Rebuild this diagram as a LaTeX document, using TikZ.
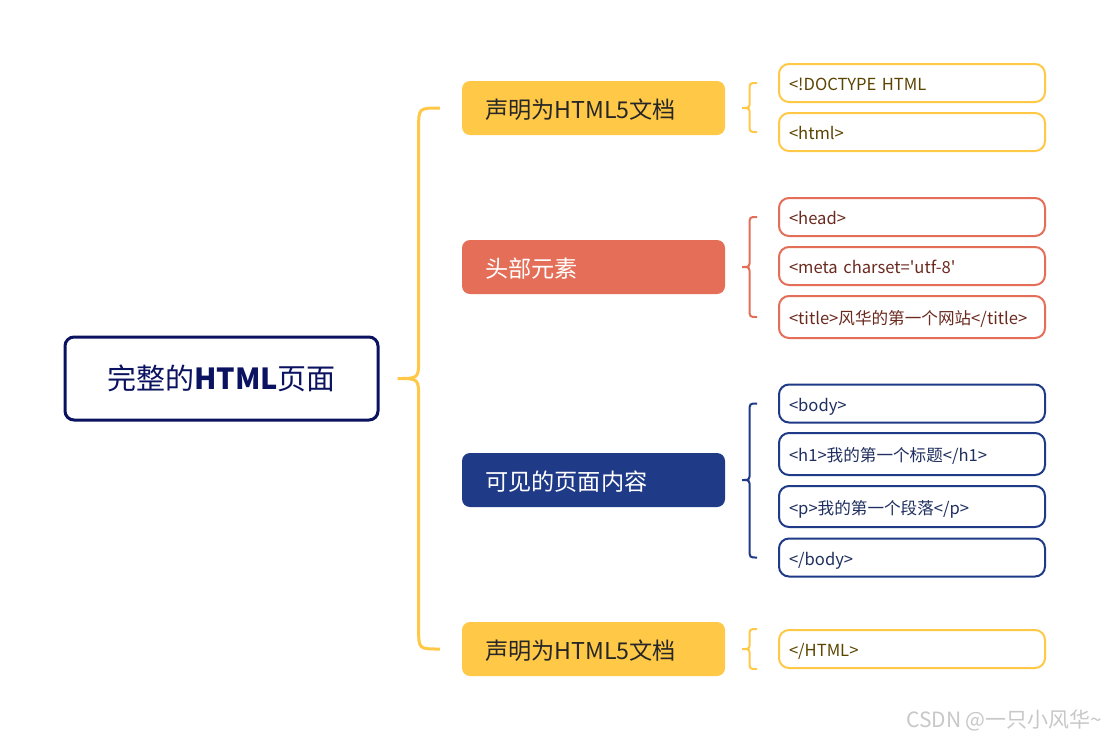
\documentclass[tikz,border=0pt]{standalone}
\usepackage{fontspec}
\setmainfont{Noto Sans CJK SC}
\newfontfamily\leaffont{Noto Sans CJK SC}
\usetikzlibrary{calc}
\definecolor{ylw}{HTML}{FFC947}
\definecolor{crl}{HTML}{E46E58}
\definecolor{nvy}{HTML}{1F3A87}
\definecolor{rootc}{HTML}{0B1260}
\definecolor{ytext}{HTML}{5C4500}
\definecolor{ctext}{HTML}{6B2A1F}
\definecolor{ntext}{HTML}{1F2F5F}
\definecolor{wm}{HTML}{C8C8C8}
\newcommand\curlyb[5]{% style, tip, top end, bottom end, radius
  \draw[#1] let \p1=(#2),\p2=(#3),\p3=(#4),\p4=($(#2)!0.5!(#3)$) in
   (\p2) .. controls (\x4,\y2) .. (\x4,{\y2-#5})
   -- (\x4,{\y1+#5}) .. controls (\x4,\y1) .. (\p1)
   .. controls (\x4,\y1) .. (\x4,{\y1-#5})
   -- (\x4,{\y3+#5}) .. controls (\x4,\y3) .. (\p3);}
\begin{document}
\begin{tikzpicture}[x=1pt,y=-1pt,
  rootbox/.style={draw=rootc,line width=3pt,rounded corners=9pt,fill=white,
    minimum width=313pt,minimum height=83pt,text=rootc,font=\fontsize{29}{32}\selectfont},
  branch/.style={fill=#1,rounded corners=8pt,minimum height=54pt,
    text width=217pt,inner xsep=23pt,align=left,font=\fontsize{23.2}{26}\selectfont,
    text height=22pt,text depth=2pt},
  leaf/.style={draw=#1,line width=2pt,rounded corners=10pt,fill=white,
    minimum height=38pt,text width=246pt,inner xsep=10pt,align=left,
    font=\leaffont\fontsize{16.6}{19}\selectfont,text height=17pt,text depth=2pt},
  bigbrace/.style={draw=ylw,line width=3pt},
  smallbrace/.style={draw=#1,line width=2pt}]
\useasboundingbox (0,0) rectangle (1110,740);
\fill[white] (0,0) rectangle (1110,740);

% root
\node[rootbox] (root) at (221.5,378.5) {完整的{\bfseries HTML}页面};

% branches
\node[branch=ylw,text=black!85] (b1) at (593.5,108) {声明为HTML5文档};
\node[branch=crl,text=white] (b2) at (593.5,267) {头部元素};
\node[branch=nvy,text=white] (b3) at (593.5,480) {可见的页面内容};
\node[branch=ylw,text=black!85] (b4) at (593.5,649) {声明为HTML5文档};

% leaves
\node[leaf=ylw,text=ytext] (l11) at (912,83) {<!DOCTYPE HTML};
\node[leaf=ylw,text=ytext] (l12) at (912,132) {<html>};
\node[leaf=crl,text=ctext] (l21) at (912,217) {<head>};
\node[leaf=crl,text=ctext] (l22) at (912,266) {<meta charset='utf-8'};
\node[leaf=crl,text=ctext,minimum height=42pt] (l23) at (912,317) {<title>风华的第一个网站</title>};
\node[leaf=nvy,text=ntext] (l31) at (912,403.5) {<body>};
\node[leaf=nvy,text=ntext,minimum height=42pt] (l32) at (912,454) {<h1>我的第一个标题</h1>};
\node[leaf=nvy,text=ntext,minimum height=41pt] (l33) at (912,506.5) {<p>我的第一个段落</p>};
\node[leaf=nvy,text=ntext] (l34) at (912,557.5) {</body>};
\node[leaf=ylw,text=ytext] (l41) at (912,649) {</HTML>};

% big brace
\coordinate (rt) at ($(root.east)+(18,0)$);
\coordinate (bt) at ($(b1.west)+(-22,0)$);
\coordinate (bb) at ($(b4.west)+(-22,0)$);
\curlyb{bigbrace}{rt}{bt}{bb}{20pt}

% small braces
\coordinate (t1) at ($(b1.east)+(17,0)$);
\coordinate (e1a) at ($(l11.west)+(-21,0)$);
\coordinate (e1b) at ($(l12.west)+(-21,0)$);
\curlyb{smallbrace=ylw}{t1}{e1a}{e1b}{7pt}

\coordinate (t2) at ($(b2.east)+(17,0)$);
\coordinate (e2a) at ($(l21.west)+(-21,0)$);
\coordinate (e2b) at ($(l23.west)+(-21,0)$);
\curlyb{smallbrace=crl}{t2}{e2a}{e2b}{8pt}

\coordinate (t3) at ($(b3.east)+(17,0)$);
\coordinate (e3a) at ($(l31.west)+(-21,0)$);
\coordinate (e3b) at ($(l34.west)+(-21,0)$);
\curlyb{smallbrace=nvy}{t3}{e3a}{e3b}{8pt}

\coordinate (t4) at ($(b4.east)+(17,0)$);
\coordinate (e4a) at ($(l41.west)+(-21,-20)$);
\coordinate (e4b) at ($(l41.west)+(-21,20)$);
\curlyb{smallbrace=ylw}{t4}{e4a}{e4b}{7pt}

% watermark
\node[text=wm,font=\leaffont\fontsize{21}{24}\selectfont,anchor=east] (wmk) at (1106,720) {CSDN @一只小风华\textasciitilde};
\end{tikzpicture}
\end{document}
